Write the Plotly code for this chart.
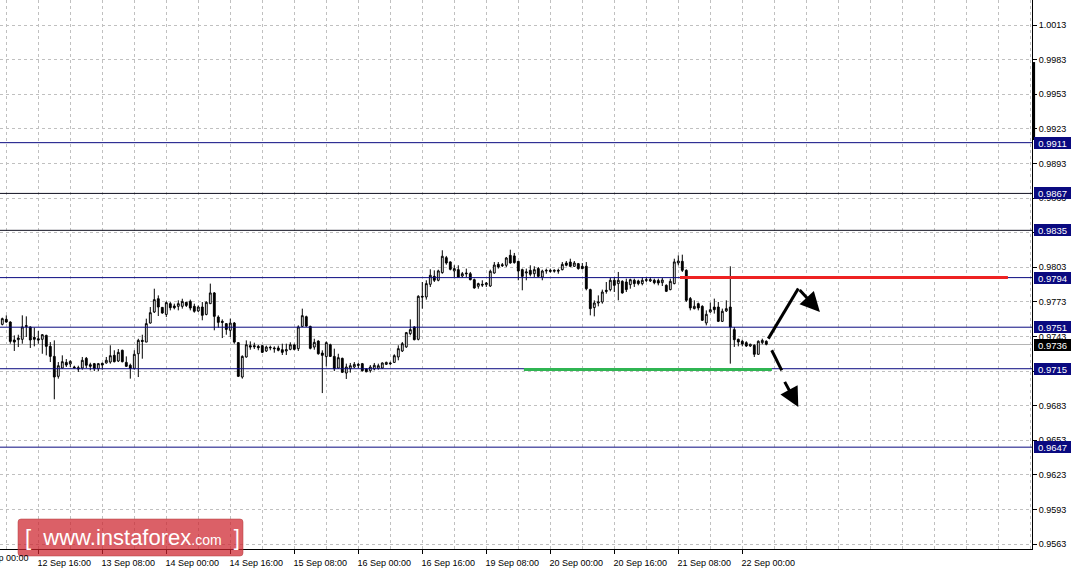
import plotly.graph_objects as go

# ---------------- data (H1 bars) ----------------
open_ = [0.97535, 0.97578, 0.97555, 0.97399, 0.97402, 0.97405, 0.97515, 0.97512, 0.97422, 0.97410,
         0.97405, 0.97439, 0.97344, 0.97257, 0.97084, 0.97156, 0.97205, 0.97191, 0.97165, 0.97159,
         0.97156, 0.97240, 0.97185, 0.97194, 0.97150, 0.97197, 0.97200, 0.97208, 0.97266, 0.97217,
         0.97310, 0.97205, 0.97180, 0.97153, 0.97280, 0.97396, 0.97381, 0.97546, 0.97642, 0.97757,
         0.97682, 0.97621, 0.97714, 0.97694, 0.97691, 0.97691, 0.97726, 0.97734, 0.97691, 0.97651,
         0.97685, 0.97621, 0.97714, 0.97807, 0.97598, 0.97561, 0.97541, 0.97483, 0.97546, 0.97376,
         0.97078, 0.97252, 0.97350, 0.97350, 0.97344, 0.97350, 0.97304, 0.97330, 0.97330, 0.97330,
         0.97315, 0.97304, 0.97318, 0.97356, 0.97324, 0.97517, 0.97601, 0.97517, 0.97338, 0.97390,
         0.97286, 0.97255, 0.97358, 0.97257, 0.97156, 0.97240, 0.97113, 0.97150, 0.97165, 0.97188,
         0.97194, 0.97148, 0.97133, 0.97148, 0.97153, 0.97156, 0.97188, 0.97200, 0.97205, 0.97252,
         0.97304, 0.97339, 0.97454, 0.97512, 0.97405, 0.97778, 0.97772, 0.97882, 0.97951, 0.97917,
         0.97983, 0.98113, 0.98076, 0.97998, 0.98009, 0.97954, 0.97980, 0.97974, 0.97922, 0.97865,
         0.97882, 0.97879, 0.97867, 0.97980, 0.98055, 0.98052, 0.98047, 0.98133, 0.98128, 0.98081,
         0.98009, 0.97980, 0.98003, 0.97974, 0.98018, 0.97945, 0.97997, 0.98003, 0.97995, 0.98003,
         0.98009, 0.98067, 0.98075, 0.98038, 0.98061, 0.98038, 0.98038, 0.97836, 0.97680, 0.97720,
         0.97729, 0.97830, 0.97836, 0.97917, 0.97888, 0.97908, 0.97902, 0.97879, 0.97917, 0.97911,
         0.97888, 0.97922, 0.97911, 0.97917, 0.97914, 0.97896, 0.97873, 0.97836, 0.97888, 0.98067,
         0.98081, 0.98003, 0.97758, 0.97671, 0.97714, 0.97691, 0.97547, 0.97642, 0.97685, 0.97685,
         0.97561, 0.97651, 0.97685, 0.97489, 0.97405, 0.97388, 0.97376, 0.97347, 0.97353, 0.97275,
         0.97376, 0.97388]

high = [0.97593, 0.97613, 0.97561, 0.97439, 0.97445, 0.97613, 0.97604, 0.97517, 0.97506, 0.97477,
        0.97451, 0.97445, 0.97381, 0.97396, 0.97208, 0.97266, 0.97234, 0.97223, 0.97176, 0.97176,
        0.97252, 0.97252, 0.97202, 0.97200, 0.97200, 0.97202, 0.97252, 0.97353, 0.97310, 0.97321,
        0.97315, 0.97257, 0.97194, 0.97310, 0.97410, 0.97445, 0.97584, 0.97685, 0.97844, 0.97786,
        0.97685, 0.97734, 0.97728, 0.97714, 0.97743, 0.97757, 0.97728, 0.97749, 0.97714, 0.97699,
        0.97728, 0.97734, 0.97888, 0.97815, 0.97613, 0.97578, 0.97546, 0.97584, 0.97555, 0.97381,
        0.97266, 0.97396, 0.97387, 0.97376, 0.97356, 0.97356, 0.97350, 0.97350, 0.97344, 0.97350,
        0.97367, 0.97367, 0.97379, 0.97367, 0.97526, 0.97671, 0.97610, 0.97523, 0.97410, 0.97396,
        0.97310, 0.97387, 0.97367, 0.97324, 0.97280, 0.97246, 0.97194, 0.97200, 0.97208, 0.97200,
        0.97200, 0.97156, 0.97182, 0.97200, 0.97194, 0.97205, 0.97211, 0.97211, 0.97275, 0.97353,
        0.97382, 0.97469, 0.97578, 0.97518, 0.97787, 0.97902, 0.97917, 0.98012, 0.98003, 0.98009,
        0.98177, 0.98128, 0.98081, 0.98047, 0.98047, 0.97989, 0.98018, 0.97989, 0.97931, 0.97896,
        0.97917, 0.97902, 0.98009, 0.98075, 0.98075, 0.98067, 0.98119, 0.98182, 0.98154, 0.98084,
        0.98018, 0.98018, 0.98047, 0.98038, 0.98032, 0.98009, 0.98018, 0.98018, 0.98012, 0.98018,
        0.98075, 0.98084, 0.98104, 0.98084, 0.98067, 0.98067, 0.98075, 0.97844, 0.97743, 0.97786,
        0.97836, 0.97902, 0.97937, 0.97945, 0.97989, 0.97917, 0.97931, 0.97931, 0.97931, 0.97922,
        0.97945, 0.97945, 0.97945, 0.97931, 0.97931, 0.97937, 0.97882, 0.97931, 0.98104, 0.98133,
        0.98139, 0.98012, 0.97772, 0.97743, 0.97723, 0.97700, 0.97656, 0.97723, 0.97758, 0.97729,
        0.97671, 0.97743, 0.98038, 0.97512, 0.97411, 0.97402, 0.97388, 0.97367, 0.97362, 0.97396,
        0.97411, 0.97396]

low = [0.97526, 0.97549, 0.97367, 0.97304, 0.97338, 0.97367, 0.97425, 0.97330, 0.97344, 0.97367,
       0.97280, 0.97266, 0.97208, 0.96885, 0.97064, 0.97150, 0.97165, 0.97165, 0.97153, 0.97122,
       0.97142, 0.97156, 0.97136, 0.97130, 0.97130, 0.97142, 0.97194, 0.97194, 0.97205, 0.97208,
       0.97205, 0.97165, 0.97064, 0.97142, 0.97078, 0.97237, 0.97381, 0.97541, 0.97633, 0.97607,
       0.97627, 0.97598, 0.97656, 0.97665, 0.97656, 0.97671, 0.97685, 0.97656, 0.97636, 0.97642,
       0.97570, 0.97613, 0.97714, 0.97483, 0.97506, 0.97416, 0.97445, 0.97425, 0.97367, 0.97078,
       0.97064, 0.97246, 0.97315, 0.97321, 0.97310, 0.97286, 0.97295, 0.97310, 0.97289, 0.97301,
       0.97269, 0.97269, 0.97310, 0.97310, 0.97304, 0.97512, 0.97512, 0.97318, 0.97315, 0.97272,
       0.96939, 0.97171, 0.97252, 0.97130, 0.97150, 0.97113, 0.97061, 0.97116, 0.97156, 0.97156,
       0.97127, 0.97119, 0.97116, 0.97136, 0.97142, 0.97148, 0.97182, 0.97180, 0.97200, 0.97223,
       0.97295, 0.97331, 0.97440, 0.97396, 0.97396, 0.97671, 0.97749, 0.97859, 0.97902, 0.97908,
       0.97974, 0.98052, 0.98003, 0.97945, 0.97940, 0.97940, 0.97945, 0.97917, 0.97844, 0.97844,
       0.97859, 0.97859, 0.97859, 0.97974, 0.98018, 0.98032, 0.98032, 0.98061, 0.98061, 0.97917,
       0.97830, 0.97917, 0.97951, 0.97945, 0.97945, 0.97917, 0.97974, 0.97983, 0.97983, 0.97974,
       0.98003, 0.98038, 0.98032, 0.98032, 0.98009, 0.98012, 0.97830, 0.97613, 0.97604, 0.97691,
       0.97714, 0.97801, 0.97821, 0.97815, 0.97743, 0.97801, 0.97815, 0.97844, 0.97859, 0.97873,
       0.97873, 0.97902, 0.97902, 0.97882, 0.97873, 0.97867, 0.97815, 0.97830, 0.97882, 0.98047,
       0.97989, 0.97729, 0.97656, 0.97665, 0.97656, 0.97564, 0.97526, 0.97636, 0.97628, 0.97555,
       0.97555, 0.97642, 0.97194, 0.97339, 0.97344, 0.97344, 0.97339, 0.97339, 0.97252, 0.97272,
       0.97362, 0.97353]

close = [0.97584, 0.97555, 0.97387, 0.97381, 0.97416, 0.97512, 0.97523, 0.97399, 0.97405, 0.97399,
         0.97445, 0.97344, 0.97257, 0.97078, 0.97176, 0.97211, 0.97182, 0.97214, 0.97159, 0.97148,
         0.97223, 0.97180, 0.97171, 0.97150, 0.97194, 0.97182, 0.97223, 0.97263, 0.97211, 0.97292,
         0.97211, 0.97171, 0.97153, 0.97275, 0.97396, 0.97387, 0.97541, 0.97636, 0.97749, 0.97685,
         0.97633, 0.97723, 0.97679, 0.97679, 0.97714, 0.97734, 0.97699, 0.97676, 0.97648, 0.97685,
         0.97613, 0.97726, 0.97807, 0.97604, 0.97552, 0.97552, 0.97491, 0.97546, 0.97381, 0.97084,
         0.97257, 0.97358, 0.97338, 0.97341, 0.97332, 0.97292, 0.97338, 0.97335, 0.97324, 0.97310,
         0.97292, 0.97315, 0.97358, 0.97318, 0.97512, 0.97610, 0.97520, 0.97327, 0.97379, 0.97280,
         0.97266, 0.97376, 0.97257, 0.97150, 0.97246, 0.97119, 0.97165, 0.97176, 0.97188, 0.97180,
         0.97133, 0.97124, 0.97165, 0.97180, 0.97176, 0.97200, 0.97205, 0.97194, 0.97263, 0.97324,
         0.97367, 0.97463, 0.97489, 0.97402, 0.97778, 0.97772, 0.97888, 0.97960, 0.97917, 0.97998,
         0.98125, 0.98067, 0.98012, 0.98018, 0.97945, 0.97974, 0.97974, 0.97922, 0.97850, 0.97888,
         0.97876, 0.97893, 0.97995, 0.98049, 0.98032, 0.98044, 0.98110, 0.98067, 0.98070, 0.97997,
         0.97951, 0.97989, 0.97969, 0.98009, 0.97951, 0.97997, 0.98003, 0.97995, 0.98003, 0.97997,
         0.98055, 0.98047, 0.98038, 0.98067, 0.98018, 0.98018, 0.97844, 0.97671, 0.97720, 0.97729,
         0.97815, 0.97821, 0.97917, 0.97873, 0.97917, 0.97807, 0.97836, 0.97922, 0.97888, 0.97888,
         0.97917, 0.97917, 0.97922, 0.97896, 0.97893, 0.97919, 0.97821, 0.97908, 0.98076, 0.98084,
         0.98003, 0.97743, 0.97677, 0.97691, 0.97677, 0.97570, 0.97622, 0.97662, 0.97662, 0.97561,
         0.97648, 0.97671, 0.97512, 0.97402, 0.97382, 0.97365, 0.97347, 0.97362, 0.97275, 0.97388,
         0.97396, 0.97362]

bar_index = list(range(len(close)))

time_tick_index = [9, 25, 41, 57, 73, 89, 105, 121, 137, 153, 169, 185]
time_tick_text = ["12 Sep 16:00", "13 Sep 08:00", "14 Sep 00:00", "14 Sep 16:00",
                  "15 Sep 08:00", "16 Sep 00:00", "16 Sep 16:00", "19 Sep 08:00",
                  "20 Sep 00:00", "20 Sep 16:00", "21 Sep 08:00", "22 Sep 00:00"]
clipped_tick_index = -7
clipped_tick_text = "12 Sep 00:00"

price_ticks = [0.9563, 0.9593, 0.9623, 0.9653, 0.9683, 0.9713, 0.9743, 0.9773,
               0.9803, 0.9833, 0.9863, 0.9893, 0.9923, 0.9953, 0.9983, 1.0013]
price_tick_text = ["%.4f" % v for v in price_ticks]

levels = [0.9911, 0.9867, 0.9835, 0.9794, 0.9751, 0.9715, 0.9647]
level_line_colors = ["#0a0a80", "#101020", "#101020", "#0a0a80", "#0a0a80", "#0a0a80", "#0a0a80"]
current_price = 0.9736

resistance_price, resistance_from, resistance_to = 0.9794, 169.4, 251.4
support_price, support_from, support_to = 0.97144, 130.4, 192.4

up_arrow_x = [191.5, 199.0, 204.4]
up_arrow_y = [0.97411, 0.97845, 0.97642]
down_arrow_x = [192.35, 194.85, 195.4, 199.0]
down_arrow_y = [0.97310, 0.97136, 0.97049, 0.96818]

side_bar_prices = [0.99133, 0.99809]

# ---------------- figure ----------------
X_RANGE = [-0.575, 257.425]
Y_RANGE = [0.95587, 1.00347]
FONT = "Liberation Sans, Arial, sans-serif"
NAVY = "#0a0a80"
GRID = "#c0c0c0"

fig = go.Figure()
fig.add_trace(go.Candlestick(
    x=bar_index, open=open_, high=high, low=low, close=close,
    increasing=dict(line=dict(color="black", width=1), fillcolor="white"),
    decreasing=dict(line=dict(color="black", width=1), fillcolor="black"),
    whiskerwidth=0, showlegend=False, hoverinfo="skip",
))

shapes = []
shapes.append(dict(type="line", xref="paper", x0=0, x1=1, yref="y",
                   y0=current_price, y1=current_price,
                   line=dict(color="#b4b4b4", width=1), layer="below"))
for lv, col in zip(levels, level_line_colors):
    shapes.append(dict(type="line", xref="paper", x0=0, x1=1, yref="y", y0=lv, y1=lv,
                       line=dict(color=col, width=1), layer="above"))
shapes.append(dict(type="line", xref="x", yref="y", x0=resistance_from, x1=resistance_to,
                   y0=resistance_price, y1=resistance_price,
                   line=dict(color="#ee2222", width=3), layer="above"))
shapes.append(dict(type="line", xref="x", yref="y", x0=support_from, x1=support_to,
                   y0=support_price, y1=support_price,
                   line=dict(color="#2fb552", width=3), layer="above"))
shapes.append(dict(type="line", xref="x", yref="y", x0=up_arrow_x[0], y0=up_arrow_y[0],
                   x1=up_arrow_x[1], y1=up_arrow_y[1], line=dict(color="black", width=3)))
shapes.append(dict(type="line", xref="x", yref="y", x0=down_arrow_x[0], y0=down_arrow_y[0],
                   x1=down_arrow_x[1], y1=down_arrow_y[1], line=dict(color="black", width=3)))


def ypaper(v):
    return (v - Y_RANGE[0]) / (Y_RANGE[1] - Y_RANGE[0])


shapes.append(dict(type="rect", xref="paper", yref="paper", x0=1.0007, x1=1.0030,
                   y0=ypaper(side_bar_prices[0]), y1=ypaper(side_bar_prices[1]),
                   fillcolor="black", line=dict(width=0), layer="above"))

PW, PH = 1032.0, 549.0
bx0, bx1, by0, by1, r = 18 / PW, 243 / PW, (549 - 556) / PH, (549 - 519) / PH, 3
rx, ry = r / PW, r / PH
path = (f"M {bx0+rx},{by0} L {bx1-rx},{by0} Q {bx1},{by0} {bx1},{by0+ry} "
        f"L {bx1},{by1-ry} Q {bx1},{by1} {bx1-rx},{by1} L {bx0+rx},{by1} "
        f"Q {bx0},{by1} {bx0},{by1-ry} L {bx0},{by0+ry} Q {bx0},{by0} {bx0+rx},{by0} Z")
shapes.append(dict(type="path", xref="paper", yref="paper", path=path,
                   fillcolor="rgba(205,35,45,0.72)", line=dict(color="rgba(180,60,60,0.5)", width=1),
                   layer="above"))

annotations = []
annotations.append(dict(xref="paper", yref="paper",
                        x=(clipped_tick_index - X_RANGE[0]) / (X_RANGE[1] - X_RANGE[0]) - 1 / PW,
                        y=0, xanchor="left", yanchor="top", yshift=-2,
                        text=clipped_tick_text, showarrow=False,
                        font=dict(family=FONT, size=9, color="black")))
for lv in levels:
    annotations.append(dict(xref="paper", yref="y", x=1034 / PW, y=lv, xanchor="left",
                            yanchor="middle", text="%.4f" % lv, showarrow=False,
                            bgcolor=NAVY, borderpad=1, borderwidth=0, width=35, height=10,
                            font=dict(family=FONT, size=9.5, color="white")))
annotations.append(dict(xref="paper", yref="y", x=1034 / PW, y=current_price, xanchor="left",
                        yanchor="middle", text="%.4f" % current_price, showarrow=False,
                        bgcolor="black", borderpad=1, borderwidth=0, width=35, height=10,
                        font=dict(family=FONT, size=9.5, color="white")))
annotations.append(dict(xref="x", yref="y", axref="x", ayref="y",
                        x=up_arrow_x[2], y=up_arrow_y[2], ax=up_arrow_x[1], ay=up_arrow_y[1],
                        text="", showarrow=True, arrowhead=2, arrowsize=1.3, arrowwidth=3,
                        arrowcolor="black", standoff=0))
annotations.append(dict(xref="x", yref="y", axref="x", ayref="y",
                        x=down_arrow_x[3], y=down_arrow_y[3], ax=down_arrow_x[2], ay=down_arrow_y[2],
                        text="", showarrow=True, arrowhead=2, arrowsize=1.3, arrowwidth=3,
                        arrowcolor="black", standoff=0))
annotations.append(dict(xref="paper", yref="paper", x=(bx0 + bx1) / 2 + 2 / PW, y=(by0 + by1) / 2,
                        xanchor="center", yanchor="middle", showarrow=False,
                        text="[&nbsp;&nbsp;www.instaforex<span style='font-size:14px'>.com</span>&nbsp;&nbsp;]",
                        font=dict(family=FONT, size=22, color="white")))

fig.update_layout(
    width=1073, height=570,
    margin=dict(l=0, r=41, t=0, b=21, pad=0),
    paper_bgcolor="white", plot_bgcolor="white",
    showlegend=False, boxgap=0.35,
    shapes=shapes, annotations=annotations,
    xaxis=dict(
        range=X_RANGE, rangeslider=dict(visible=False), fixedrange=True,
        tickmode="array", tickvals=time_tick_index, ticktext=time_tick_text,
        ticks="outside", ticklen=4, tickcolor="black", tickwidth=1,
        ticklabelshift=26, ticklabelstandoff=1,
        tickfont=dict(family=FONT, size=9, color="black"),
        showgrid=True, gridcolor=GRID, griddash="3px,3px", gridwidth=1,
        minor=dict(tickmode="linear", tick0=1, dtick=8, showgrid=True,
                   gridcolor=GRID, griddash="3px,3px", ticks=""),
        showline=True, linecolor="black", linewidth=1, zeroline=False, automargin=False,
    ),
    yaxis=dict(
        range=Y_RANGE, side="right", fixedrange=True,
        tickmode="array", tickvals=price_ticks, ticktext=price_tick_text,
        ticks="outside", ticklen=4, tickcolor="black", tickwidth=1,
        tickfont=dict(family=FONT, size=9, color="black"),
        showgrid=True, gridcolor=GRID, griddash="3px,3px", gridwidth=1,
        showline=True, linecolor="black", linewidth=1, zeroline=False, automargin=False,
    ),
)

fig.write_html("out.html", config={"displayModeBar": False},
               post_script="document.body.style.margin='0px';document.body.style.padding='0px';")
